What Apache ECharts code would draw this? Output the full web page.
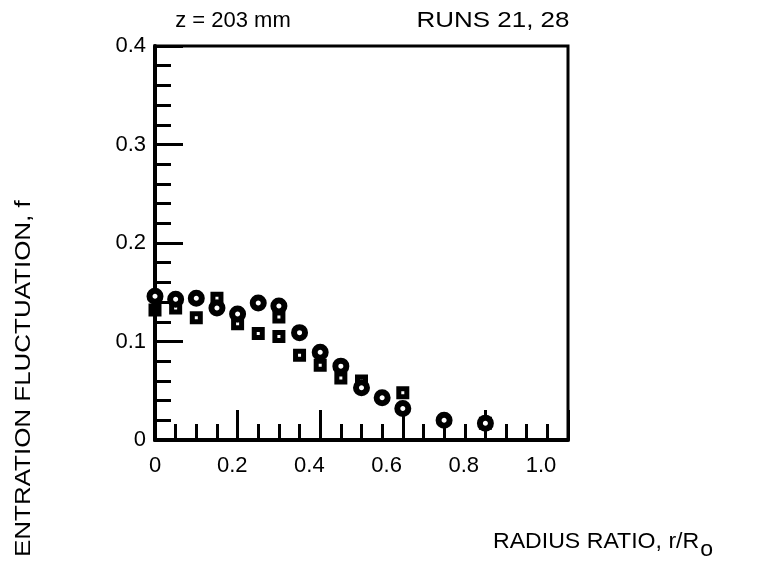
<!DOCTYPE html>
<html>
<head>
<meta charset="utf-8">
<script src="https://cdn.jsdelivr.net/npm/echarts@6/dist/echarts.min.js"></script>
<style>
html,body{margin:0;padding:0;background:#fff;}
#chart{width:777px;height:563px;}
</style>
</head>
<body>
<div id="chart"></div>
<script>
// Circles (open ring markers)
const circleX = [0, 0.05, 0.1, 0.15, 0.2, 0.25, 0.3, 0.35, 0.4, 0.45, 0.5, 0.55, 0.6, 0.7, 0.8];
const circleY = [0.146, 0.143, 0.144, 0.134, 0.128, 0.139, 0.136, 0.109, 0.089, 0.075, 0.053, 0.043, 0.032, 0.020, 0.017];
// Squares (filled with small centre dot)
const squareX = [0, 0.05, 0.1, 0.15, 0.2, 0.25, 0.3, 0.3, 0.35, 0.4, 0.45, 0.5, 0.6, 0.8];
const squareY = [0.132, 0.134, 0.124, 0.144, 0.118, 0.108, 0.125, 0.105, 0.086, 0.076, 0.063, 0.060, 0.048, 0.017];
const xTickLabels = ['0', '0.2', '0.4', '0.6', '0.8', '1.0'];
const yTickLabels = ['0', '0.1', '0.2', '0.3', '0.4'];

const FONT = '"Liberation Sans", Arial, Helvetica, sans-serif';
const circleData = circleX.map((x, i) => [x, circleY[i]]);
const squareData = squareX.map((x, i) => [x, squareY[i]]);

const chart = echarts.init(document.getElementById('chart'), null, {renderer: 'canvas'});
chart.setOption({
  animation: false,
  backgroundColor: '#fff',
  grid: {left: 155, top: 46, right: 209, bottom: 123, show: true, borderColor: '#000', borderWidth: 3, backgroundColor: 'transparent'},
  xAxis: [
    {
      type: 'value', min: 0, max: 1, interval: 0.2, position: 'bottom',
      axisLine: {onZero: false, lineStyle: {color: '#000', width: 4}},
      axisTick: {inside: true, length: 30, lineStyle: {color: '#000', width: 3}},
      minorTick: {show: true, splitNumber: 4, length: 16, lineStyle: {color: '#000', width: 3}},
      axisLabel: {show: false},
      splitLine: {show: false}
    },
    {
      type: 'value', min: 0, max: 1.07, interval: 0.2, position: 'bottom',
      axisLine: {show: false, onZero: false},
      axisTick: {show: false},
      axisLabel: {
        margin: 15, fontSize: 22, color: '#000', fontFamily: FONT, showMaxLabel: false,
        formatter: v => { const i = Math.round(v / 0.2); return Math.abs(v - i * 0.2) < 1e-6 ? (xTickLabels[i] || '') : ''; }
      },
      splitLine: {show: false}
    }
  ],
  yAxis: {
    type: 'value', min: 0, max: 0.4, interval: 0.1,
    axisLine: {onZero: false, lineStyle: {color: '#000', width: 4}},
    axisTick: {inside: true, length: 28, lineStyle: {color: '#000', width: 3}},
    minorTick: {show: true, splitNumber: 5, length: 16, lineStyle: {color: '#000', width: 3}},
    axisLabel: {
      margin: 9, fontSize: 22, color: '#000', fontFamily: FONT,
      formatter: v => yTickLabels[Math.round(v / 0.1)] || ''
    },
    splitLine: {show: false}
  },
  series: [
    {
      type: 'scatter', xAxisIndex: 0, data: squareData,
      symbol: 'path://M0,0H13V13H0Z M5,5V8H8V5Z',
      symbolSize: 13, itemStyle: {color: '#000', opacity: 1}, z: 3
    },
    {
      type: 'scatter', xAxisIndex: 0, data: circleData,
      symbol: 'circle', symbolSize: 11,
      itemStyle: {color: '#fff', borderColor: '#000', borderWidth: 6, opacity: 1}, z: 4
    }
  ],
  graphic: [
    {type: 'text', x: 233, y: 21, style: {x: 0, y: 0, text: 'z = 203 mm', font: '22px ' + FONT, fill: '#000', textAlign: 'center', textVerticalAlign: 'middle'}},
    {type: 'text', x: 493, y: 21, scaleX: 1.18, style: {x: 0, y: 0, text: 'RUNS 21, 28', font: '22px ' + FONT, fill: '#000', textAlign: 'center', textVerticalAlign: 'middle'}},
    {type: 'text', x: 493, y: 542, scaleX: 1.05, style: {x: 0, y: 0, text: 'RADIUS RATIO, r/R{sub|o}', font: '22px ' + FONT, fill: '#000', textVerticalAlign: 'middle',
      rich: {sub: {fontSize: 22, fontFamily: FONT, padding: [16, 0, 0, 1], fill: '#000'}}}},
    {type: 'text', x: 24, y: 557, rotation: Math.PI / 2, scaleX: 1.18,
      style: {x: 0, y: 0, text: 'ENTRATION FLUCTUATION, f', font: '22px ' + FONT, fill: '#000', textAlign: 'left', textVerticalAlign: 'middle'}}
  ]
});
</script>
</body>
</html>
